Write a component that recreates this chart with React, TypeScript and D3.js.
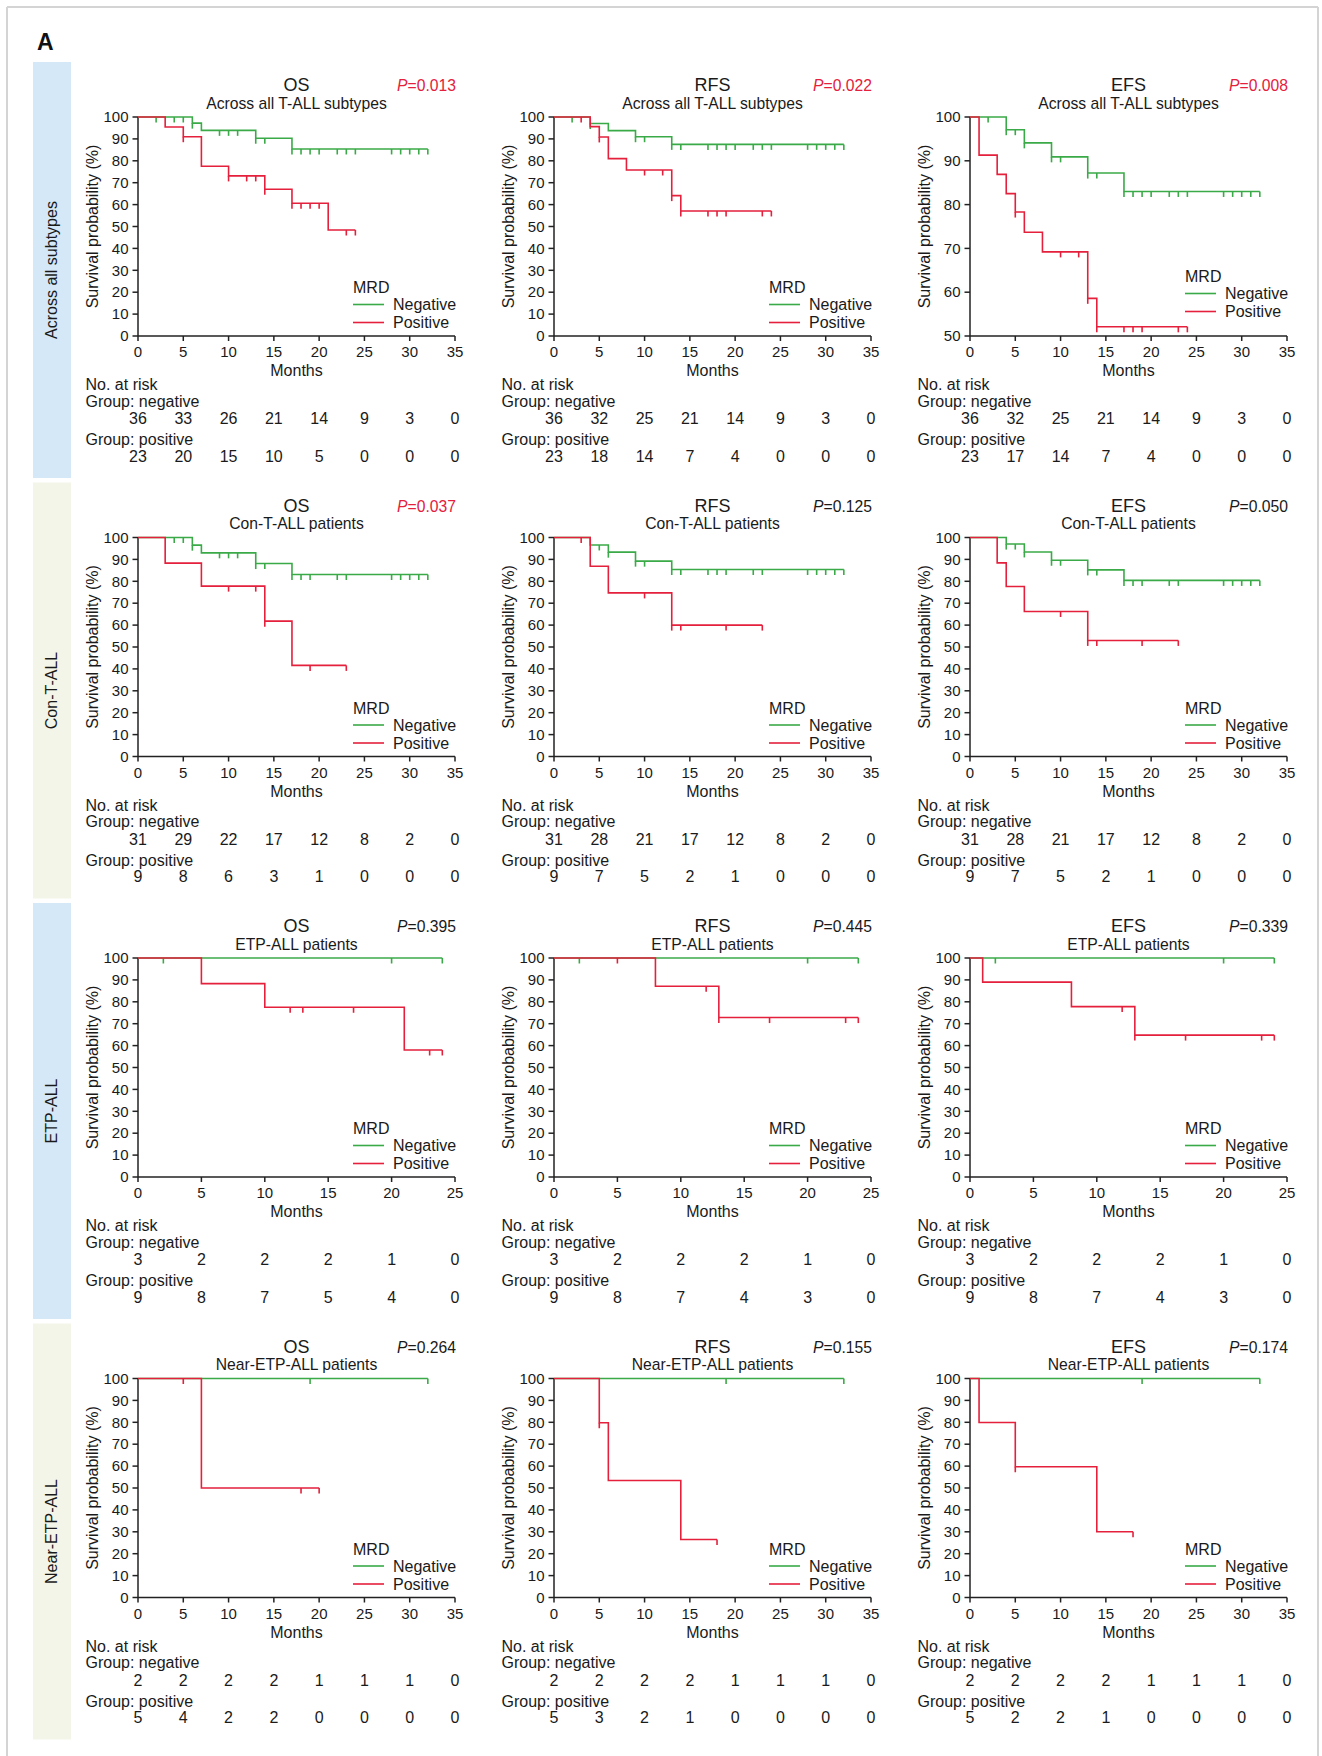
import React from 'react';
import * as d3 from 'd3';

const GREEN = '#3aaa48';
const RED = '#e4203c';
const BLUE_BAND = '#d4e8f8';
const BEIGE_BAND = '#f3f5e8';
const FONT = '"Liberation Sans", Arial, sans-serif';

// tick months for the x axes / at-risk tables
const months35 = [0, 5, 10, 15, 20, 25, 30, 35];
const months25 = [0, 5, 10, 15, 20, 25];

// ---------- row 1: across all T-ALL subtypes ----------
const osAllNeg = [[0, 100], [6, 97.2], [7, 93.9], [13, 90.3], [17, 85.4], [32, 85.4]];
const osAllNegCens = [2, 4, 5, 6, 9, 10, 11, 13, 14, 17, 18, 19, 20, 22, 23, 24, 28, 29, 30, 31, 32];
const osAllPos = [[0, 100], [3, 95.4], [5, 91.0], [7, 77.5], [10, 73.1], [14, 67.0], [17, 60.6], [21, 48.4], [24, 48.4]];
const osAllPosCens = [5, 10, 12, 13, 14, 17, 18, 19, 20, 23, 24];
const osAllRiskNeg = [36, 33, 26, 21, 14, 9, 3, 0];
const osAllRiskPos = [23, 20, 15, 10, 5, 0, 0, 0];

const rfsAllNeg = [[0, 100], [4, 97.0], [6, 93.8], [9, 91.0], [13, 87.5], [32, 87.5]];
const rfsAllNegCens = [2, 4, 9, 10, 13, 14, 17, 18, 19, 20, 22, 23, 24, 28, 29, 30, 31, 32];
const rfsAllPos = [[0, 100], [4, 95.6], [5, 90.9], [6, 81.0], [8, 75.8], [13, 64.1], [14, 57.1], [24, 57.1]];
const rfsAllPosCens = [3, 5, 10, 12, 13, 14, 17, 18, 19, 23, 24];
const rfsAllRiskNeg = [36, 32, 25, 21, 14, 9, 3, 0];
const rfsAllRiskPos = [23, 18, 14, 7, 4, 0, 0, 0];

const efsAllNeg = [[0, 100], [4, 97.1], [6, 94.1], [9, 90.9], [13, 87.2], [17, 83.0], [32, 83.0]];
const efsAllNegCens = [2, 4, 5, 6, 9, 10, 13, 14, 17, 18, 19, 20, 22, 23, 24, 28, 29, 30, 31, 32];
const efsAllPos = [[0, 100], [1, 91.3], [3, 86.9], [4, 82.5], [5, 78.3], [6, 73.7], [8, 69.2], [13, 58.6], [14, 52.1], [24, 52.1]];
const efsAllPosCens = [5, 10, 12, 13, 14, 17, 18, 19, 23, 24];
const efsAllRiskNeg = [36, 32, 25, 21, 14, 9, 3, 0];
const efsAllRiskPos = [23, 17, 14, 7, 4, 0, 0, 0];

// ---------- row 2: Con-T-ALL ----------
const osConNeg = [[0, 100], [6, 96.5], [7, 93.0], [13, 88.1], [17, 83.1], [32, 83.1]];
const osConNegCens = [4, 5, 6, 9, 10, 11, 13, 14, 17, 18, 19, 22, 23, 28, 29, 30, 31, 32];
const osConPos = [[0, 100], [3, 88.3], [7, 77.8], [14, 61.8], [17, 41.6], [23, 41.6]];
const osConPosCens = [10, 13, 14, 19, 23];
const osConRiskNeg = [31, 29, 22, 17, 12, 8, 2, 0];
const osConRiskPos = [9, 8, 6, 3, 1, 0, 0, 0];

const rfsConNeg = [[0, 100], [4, 96.6], [6, 93.3], [9, 89.2], [13, 85.4], [32, 85.4]];
const rfsConNegCens = [5, 6, 9, 10, 13, 14, 17, 18, 19, 22, 23, 28, 29, 30, 31, 32];
const rfsConPos = [[0, 100], [4, 86.9], [6, 74.7], [13, 60.0], [23, 60.0]];
const rfsConPosCens = [3, 10, 13, 14, 19, 23];
const rfsConRiskNeg = [31, 28, 21, 17, 12, 8, 2, 0];
const rfsConRiskPos = [9, 7, 5, 2, 1, 0, 0, 0];

const efsConNeg = [[0, 100], [4, 97.0], [6, 93.4], [9, 89.6], [13, 85.2], [17, 80.4], [32, 80.4]];
const efsConNegCens = [4, 5, 6, 9, 10, 13, 14, 17, 18, 19, 22, 23, 28, 29, 30, 31, 32];
const efsConPos = [[0, 100], [3, 88.4], [4, 77.6], [6, 66.2], [13, 53.0], [23, 53.0]];
const efsConPosCens = [10, 13, 14, 19, 23];
const efsConRiskNeg = [31, 28, 21, 17, 12, 8, 2, 0];
const efsConRiskPos = [9, 7, 5, 2, 1, 0, 0, 0];

// ---------- row 3: ETP-ALL ----------
const osEtpNeg = [[0, 100], [24, 100]];
const osEtpNegCens = [2, 20, 24];
const osEtpPos = [[0, 100], [5, 88.3], [10, 77.5], [21, 58.0], [24, 58.0]];
const osEtpPosCens = [12, 13, 17, 23, 24];
const osEtpRiskNeg = [3, 2, 2, 2, 1, 0];
const osEtpRiskPos = [9, 8, 7, 5, 4, 0];

const rfsEtpNeg = [[0, 100], [24, 100]];
const rfsEtpNegCens = [2, 20, 24];
const rfsEtpPos = [[0, 100], [8, 87.1], [13, 72.8], [24, 72.8]];
const rfsEtpPosCens = [5, 12, 13, 17, 23, 24];
const rfsEtpRiskNeg = [3, 2, 2, 2, 1, 0];
const rfsEtpRiskPos = [9, 8, 7, 4, 3, 0];

const efsEtpNeg = [[0, 100], [24, 100]];
const efsEtpNegCens = [2, 20, 24];
const efsEtpPos = [[0, 100], [1, 89.0], [8, 77.8], [13, 64.8], [24, 64.8]];
const efsEtpPosCens = [12, 13, 17, 23, 24];
const efsEtpRiskNeg = [3, 2, 2, 2, 1, 0];
const efsEtpRiskPos = [9, 8, 7, 4, 3, 0];

// ---------- row 4: Near-ETP-ALL ----------
const osNearNeg = [[0, 100], [32, 100]];
const osNearNegCens = [19, 32];
const osNearPos = [[0, 100], [7, 50.0], [20, 50.0]];
const osNearPosCens = [5, 18, 20];
const osNearRiskNeg = [2, 2, 2, 2, 1, 1, 1, 0];
const osNearRiskPos = [5, 4, 2, 2, 0, 0, 0, 0];

const rfsNearNeg = [[0, 100], [32, 100]];
const rfsNearNegCens = [19, 32];
const rfsNearPos = [[0, 100], [5, 79.8], [6, 53.4], [14, 26.5], [18, 26.5]];
const rfsNearPosCens = [5, 18];
const rfsNearRiskNeg = [2, 2, 2, 2, 1, 1, 1, 0];
const rfsNearRiskPos = [5, 3, 2, 1, 0, 0, 0, 0];

const efsNearNeg = [[0, 100], [32, 100]];
const efsNearNegCens = [19, 32];
const efsNearPos = [[0, 100], [1, 79.9], [5, 59.7], [14, 30.0], [18, 30.0]];
const efsNearPosCens = [5, 18];
const efsNearRiskNeg = [2, 2, 2, 2, 1, 1, 1, 0];
const efsNearRiskPos = [5, 2, 2, 1, 0, 0, 0, 0];

const rowLabels = ['Across all subtypes', 'Con-T-ALL', 'ETP-ALL', 'Near-ETP-ALL'];
const rowSubtitles = ['Across all T-ALL subtypes', 'Con-T-ALL patients', 'ETP-ALL patients', 'Near-ETP-ALL patients'];
const rowBands = [BLUE_BAND, BEIGE_BAND, BLUE_BAND, BEIGE_BAND];
const rowMonths = [months35, months35, months25, months35];
const endpoints = ['OS', 'RFS', 'EFS'];
const pValues = [
  ['0.013', '0.022', '0.008'],
  ['0.037', '0.125', '0.050'],
  ['0.395', '0.445', '0.339'],
  ['0.264', '0.155', '0.174'],
];
const pSignificant = [
  [true, true, true],
  [true, false, false],
  [false, false, false],
  [false, false, false],
];

// table of panels, row by row
const panels = [
  [
    { neg: osAllNeg, negC: osAllNegCens, pos: osAllPos, posC: osAllPosCens, rNeg: osAllRiskNeg, rPos: osAllRiskPos, yMin: 0 },
    { neg: rfsAllNeg, negC: rfsAllNegCens, pos: rfsAllPos, posC: rfsAllPosCens, rNeg: rfsAllRiskNeg, rPos: rfsAllRiskPos, yMin: 0 },
    { neg: efsAllNeg, negC: efsAllNegCens, pos: efsAllPos, posC: efsAllPosCens, rNeg: efsAllRiskNeg, rPos: efsAllRiskPos, yMin: 50 },
  ],
  [
    { neg: osConNeg, negC: osConNegCens, pos: osConPos, posC: osConPosCens, rNeg: osConRiskNeg, rPos: osConRiskPos, yMin: 0 },
    { neg: rfsConNeg, negC: rfsConNegCens, pos: rfsConPos, posC: rfsConPosCens, rNeg: rfsConRiskNeg, rPos: rfsConRiskPos, yMin: 0 },
    { neg: efsConNeg, negC: efsConNegCens, pos: efsConPos, posC: efsConPosCens, rNeg: efsConRiskNeg, rPos: efsConRiskPos, yMin: 0 },
  ],
  [
    { neg: osEtpNeg, negC: osEtpNegCens, pos: osEtpPos, posC: osEtpPosCens, rNeg: osEtpRiskNeg, rPos: osEtpRiskPos, yMin: 0 },
    { neg: rfsEtpNeg, negC: rfsEtpNegCens, pos: rfsEtpPos, posC: rfsEtpPosCens, rNeg: rfsEtpRiskNeg, rPos: rfsEtpRiskPos, yMin: 0 },
    { neg: efsEtpNeg, negC: efsEtpNegCens, pos: efsEtpPos, posC: efsEtpPosCens, rNeg: efsEtpRiskNeg, rPos: efsEtpRiskPos, yMin: 0 },
  ],
  [
    { neg: osNearNeg, negC: osNearNegCens, pos: osNearPos, posC: osNearPosCens, rNeg: osNearRiskNeg, rPos: osNearRiskPos, yMin: 0 },
    { neg: rfsNearNeg, negC: rfsNearNegCens, pos: rfsNearPos, posC: rfsNearPosCens, rNeg: rfsNearRiskNeg, rPos: rfsNearRiskPos, yMin: 0 },
    { neg: efsNearNeg, negC: efsNearNegCens, pos: efsNearPos, posC: efsNearPosCens, rNeg: efsNearRiskNeg, rPos: efsNearRiskPos, yMin: 0 },
  ],
];

// layout
const COL_X = [138, 554, 970];
const ROW_TOP = [117, 537.5, 958, 1378.5];
const PW = 317;
const PH = 219;

const survivalAt = (curve: number[][], t: number) => {
  let v = curve[0][1];
  for (const p of curve) if (p[0] <= t) v = p[1];
  return v;
};

const Curve = ({ data, cens, color, x, y }: any) => {
  const line = d3.line<number[]>().x(d => x(d[0])).y(d => y(d[1])).curve(d3.curveStepAfter);
  return (
    <g stroke={color} fill="none" strokeWidth={1.6}>
      <path d={line(data) || ''} />
      {cens.map((t: number, i: number) => {
        const cy = y(survivalAt(data, t));
        return <line key={i} x1={x(t)} x2={x(t)} y1={cy} y2={cy + 5.5} />;
      })}
    </g>
  );
};

const Panel = ({ r, c }: { r: number; c: number }) => {
  const cfg = panels[r][c];
  const months = rowMonths[r];
  const xMax = months[months.length - 1];
  const x0 = COL_X[c];
  const top = ROW_TOP[r];
  const bottom = top + PH;
  const x = d3.scaleLinear().domain([0, xMax]).range([x0, x0 + PW]);
  const y = d3.scaleLinear().domain([cfg.yMin, 100]).range([bottom, top]);
  const yTicks = d3.range(cfg.yMin, 101, 10);
  const cx = x0 + PW / 2;
  const legX = x0 + 215;
  const legBase = bottom - (cfg.yMin === 50 ? 11 : 0);
  const labelX = x0 - 52.5;

  return (
    <g fontFamily={FONT} fill="#1a1a1a">
      <text x={cx} y={top - 26} fontSize={18} textAnchor="middle">{endpoints[c]}</text>
      <text x={cx} y={top - 8.5} fontSize={15.7} textAnchor="middle">{rowSubtitles[r]}</text>
      <text x={x0 + PW + 1} y={top - 26} fontSize={15.7} textAnchor="end" fill={pSignificant[r][c] ? RED : '#1a1a1a'}>
        <tspan fontStyle="italic">P</tspan>={pValues[r][c]}
      </text>

      {/* y axis */}
      <g stroke="#222" strokeWidth={1.5}>
        <line x1={x0} x2={x0} y1={top} y2={bottom} />
        {yTicks.map(v => <line key={v} x1={x0 - 5.5} x2={x0} y1={y(v)} y2={y(v)} />)}
        <line x1={x0} x2={x0 + PW} y1={bottom} y2={bottom} />
        {months.map(m => <line key={m} x1={x(m)} x2={x(m)} y1={bottom} y2={bottom + 5} />)}
      </g>
      {yTicks.map(v => (
        <text key={v} x={x0 - 9.5} y={y(v)} dy="0.35em" fontSize={15} textAnchor="end">{v}</text>
      ))}
      {months.map(m => (
        <text key={m} x={x(m)} y={bottom + 21} fontSize={15} textAnchor="middle">{m}</text>
      ))}
      <text x={cx} y={bottom + 40} fontSize={16} textAnchor="middle">Months</text>
      <text transform={`translate(${x0 - 40},${(top + bottom) / 2}) rotate(-90)`} fontSize={16} textAnchor="middle">
        Survival probability (%)
      </text>

      <Curve data={cfg.neg} cens={cfg.negC} color={GREEN} x={x} y={y} />
      <Curve data={cfg.pos} cens={cfg.posC} color={RED} x={x} y={y} />

      {/* legend */}
      <text x={legX} y={legBase - 43} fontSize={16}>MRD</text>
      <line x1={legX} x2={legX + 31} y1={legBase - 31.5} y2={legBase - 31.5} stroke={GREEN} strokeWidth={1.6} />
      <text x={legX + 40} y={legBase - 26} fontSize={16}>Negative</text>
      <line x1={legX} x2={legX + 31} y1={legBase - 13.5} y2={legBase - 13.5} stroke={RED} strokeWidth={1.6} />
      <text x={legX + 40} y={legBase - 8} fontSize={16}>Positive</text>

      {/* numbers at risk */}
      <text x={labelX} y={bottom + 54} fontSize={16}>No. at risk</text>
      <text x={labelX} y={bottom + 70.5} fontSize={16}>Group: negative</text>
      {cfg.rNeg.map((n, i) => (
        <text key={i} x={x(months[i])} y={bottom + 88} fontSize={16} textAnchor="middle">{n}</text>
      ))}
      <text x={labelX} y={bottom + 109} fontSize={16}>Group: positive</text>
      {cfg.rPos.map((n, i) => (
        <text key={i} x={x(months[i])} y={bottom + 125.5} fontSize={16} textAnchor="middle">{n}</text>
      ))}
    </g>
  );
};

export default function App() {
  return (
    <svg
      width={1322}
      height={1756}
      style={{ position: 'absolute', left: 0, top: 0, background: '#fff' }}
    >
      <rect x={0} y={0} width={1322} height={1756} fill="#fff" />
      {/* outer frame */}
      <g stroke="#d4d4d4" strokeWidth={2}>
        <line x1={7} x2={1318} y1={7} y2={7} />
        <line x1={7} x2={7} y1={7} y2={1756} />
        <line x1={1318} x2={1318} y1={7} y2={1756} />
      </g>
      <text x={37} y={50} fontFamily={FONT} fontSize={23} fontWeight="bold" fill="#111">A</text>

      {rowLabels.map((label, r) => {
        const bandTop = ROW_TOP[r] - 55;
        return (
          <g key={label}>
            <rect x={33} y={bandTop} width={38} height={416} fill={rowBands[r]} />
            <text
              transform={`translate(57,${bandTop + 208}) rotate(-90)`}
              fontFamily={FONT}
              fontSize={16}
              textAnchor="middle"
              fill="#1a1a1a"
            >
              {label}
            </text>
          </g>
        );
      })}

      {panels.map((row, r) => row.map((_, c) => <Panel key={`${r}-${c}`} r={r} c={c} />))}
    </svg>
  );
}
